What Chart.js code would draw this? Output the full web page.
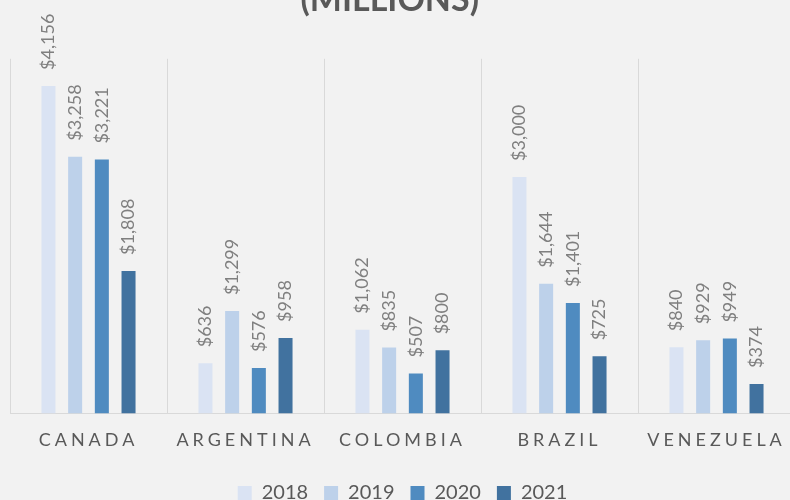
<!DOCTYPE html>
<html>
<head>
<meta charset="utf-8">
<script src="https://cdn.jsdelivr.net/npm/chart.js@4.4.1/dist/chart.umd.min.js"></script>
<style>
    html, body { margin: 0; padding: 0; background: #f2f2f2; overflow: hidden; }
    #wrap { position: relative; width: 790px; height: 500px; overflow: hidden; }
    #chart { position: absolute; left: 0; top: -20px; }
</style>
</head>
<body>
<div id="wrap"><canvas id="chart" width="800" height="535"></canvas></div>
<script>
// Countries and yearly values (millions of USD)
const countries = ['CANADA', 'ARGENTINA', 'COLOMBIA', 'BRAZIL', 'VENEZUELA'];
const years = ['2018', '2019', '2020', '2021'];
const values2018 = [4156, 636, 1062, 3000, 840];
const values2019 = [3258, 1299, 835, 1644, 929];
const values2020 = [3221, 576, 507, 1401, 949];
const values2021 = [1808, 958, 800, 725, 374];
const yearColors = ['#dae3f3', '#bdd1ea', '#4f8bc0', '#41729f'];

Chart.defaults.font.family = 'Lato, "Open Sans", sans-serif';

// Rotated "$x,xxx" labels above every bar
const barValueLabels = {
    id: 'barValueLabels',
    afterDatasetsDraw(chart) {
        const ctx = chart.ctx;
        ctx.save();
        ctx.font = '18px Lato, "Open Sans", sans-serif';
        ctx.fillStyle = '#7f7f7f';
        ctx.textAlign = 'left';
        ctx.textBaseline = 'middle';
        chart.data.datasets.forEach((ds, i) => {
            const meta = chart.getDatasetMeta(i);
            meta.data.forEach((bar, j) => {
                const text = '$' + ds.data[j].toLocaleString('en-US');
                ctx.save();
                ctx.translate(bar.x, bar.y - 16);
                ctx.rotate(-Math.PI / 2);
                ctx.fillText(text, 0, 0);
                ctx.restore();
            });
        });
        ctx.restore();
    }
};

// Wider letter spacing for the country names on the x axis
const spacedAxisLabels = {
    id: 'spacedAxisLabels',
    beforeDraw(chart) {
        const scale = chart.scales.x;
        if (scale._spaced) return;
        const orig = scale.drawLabels;
        scale.drawLabels = function (area) {
            this.ctx.save();
            this.ctx.letterSpacing = '4px';
            orig.call(this, area);
            this.ctx.restore();
        };
        scale._spaced = true;
    }
};

const seriesValues = [values2018, values2019, values2020, values2021];

new Chart(document.getElementById('chart'), {
    type: 'bar',
    data: {
        labels: countries,
        datasets: years.map((y, i) => ({
            label: y,
            data: seriesValues[i],
            backgroundColor: yearColors[i],
            borderWidth: 0,
            categoryPercentage: 0.68,
            barPercentage: 0.525
        }))
    },
    options: {
        responsive: false,
        animation: false,
        layout: { padding: { left: 10, right: 5, top: 0, bottom: 2 } },
        plugins: {
            title: {
                display: true,
                // trailing em space nudges the centred title a little left
                text: '(MILLIONS)\u2003',
                color: '#595959',
                font: { size: 34, weight: 'bold' },
                padding: { top: 0, bottom: 38 }
            },
            legend: {
                position: 'bottom',
                labels: {
                    color: '#595959',
                    font: { size: 20 },
                    boxWidth: 14,
                    boxHeight: 14,
                    padding: 16
                }
            },
            tooltip: { enabled: false }
        },
        scales: {
            x: {
                grid: { color: '#d9d9d9', lineWidth: 1, drawTicks: false, offset: true },
                border: { color: '#d9d9d9', width: 1 },
                ticks: { color: '#595959', font: { size: 18 }, padding: 16, maxRotation: 0 }
            },
            y: {
                display: false,
                min: 0,
                max: 4500
            }
        }
    },
    plugins: [barValueLabels, spacedAxisLabels]
});
</script>
</body>
</html>
